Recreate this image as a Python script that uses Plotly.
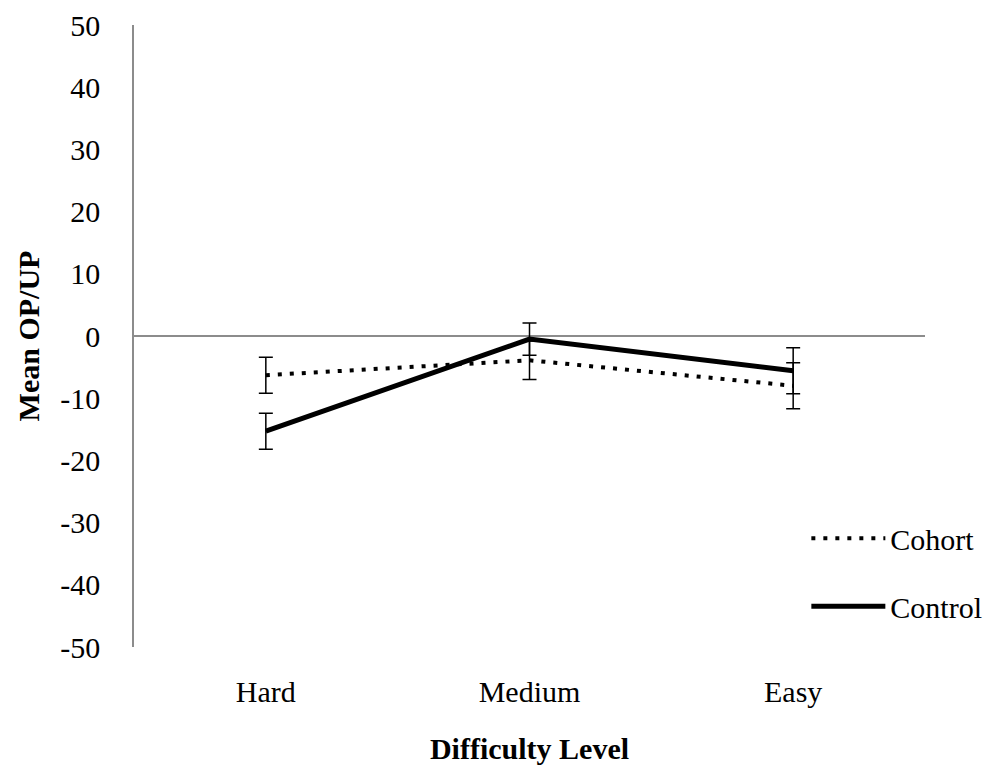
import plotly.graph_objects as go

categories = ["Hard", "Medium", "Easy"]
cohort_mean = [-6.3, -3.9, -8.0]
cohort_err = [2.9, 3.1, 3.7]
control_mean = [-15.3, -0.5, -5.6]
control_err = [2.9, 2.6, 3.7]
y_ticks = [50, 40, 30, 20, 10, 0, -10, -20, -30, -40, -50]

FONT = "Liberation Serif, Times New Roman, serif"

fig = go.Figure()
fig.add_trace(go.Scatter(
    x=categories, y=cohort_mean, name="Cohort", mode="lines", legendgroup="a",
    line=dict(color="black", width=4, dash="4px,8px"),
    error_y=dict(type="data", array=cohort_err, visible=True,
                 color="black", thickness=1.5, width=7),
))
fig.add_trace(go.Scatter(
    x=categories, y=control_mean, name="Control", mode="lines", legendgroup="b",
    line=dict(color="black", width=5),
    error_y=dict(type="data", array=control_err, visible=True,
                 color="black", thickness=1.5, width=7),
))

fig.update_layout(
    width=986, height=762,
    paper_bgcolor="white", plot_bgcolor="white",
    margin=dict(l=126, r=69, t=17, b=123, autoexpand=False),
    font=dict(family=FONT, size=30, color="black"),
    showlegend=True,
    legend=dict(x=0.85, y=0.12, xanchor="left", yanchor="middle",
                xref="paper", yref="paper",
                font=dict(family=FONT, size=30, color="black"),
                tracegroupgap=26, itemwidth=74, bgcolor="rgba(0,0,0,0)"),
    xaxis=dict(type="category", categoryorder="array", categoryarray=categories,
               range=[-0.5, 2.5], showline=False, showgrid=False, ticks="",
               zeroline=False, ticklabelstandoff=24,
               title=dict(text="<b>Difficulty Level</b>", font=dict(family=FONT, size=30), standoff=30),
               tickfont=dict(family=FONT, size=30)),
    yaxis=dict(range=[-50, 50], tickvals=y_ticks, ticktext=[str(v) for v in y_ticks],
               showgrid=False, showline=True, linecolor="#8c8c8c", linewidth=1.5,
               zeroline=True, zerolinecolor="#8c8c8c", zerolinewidth=1.5,
               ticks="", ticklabelstandoff=26,
               title=dict(text="<b>Mean OP/UP</b>", font=dict(family=FONT, size=30), standoff=12),
               tickfont=dict(family=FONT, size=30)),
)

fig.write_html("out.html")
